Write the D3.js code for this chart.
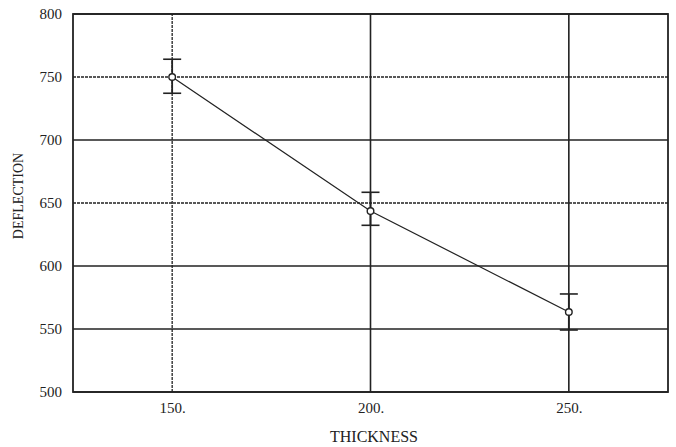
<!DOCTYPE html>
<html>
<head>
<meta charset="utf-8">
<script src="https://cdn.jsdelivr.net/npm/d3@7"></script>
<style>
  body { margin: 0; background: #fff; }
  text { font-family: "Liberation Serif", "DejaVu Serif", serif; fill: #222; }
</style>
</head>
<body>
<div id="chart"></div>
<script>
// thickness vs deflection, with error bar ends
const thickness = [150, 200, 250];
const deflection = [750, 643.6, 563.5];
const errUpper = [764.1, 658.5, 577.8];
const errLower = [737.1, 632.3, 549.2];
const xTicks = [150, 200, 250];
const yTicks = [500, 550, 600, 650, 700, 750, 800];
const dashedX = [150];
const dashedY = [650, 750];

const width = 676, height = 447;
const margin = {top: 14, right: 8, bottom: 55, left: 73};

const svg = d3.select("#chart")
  .append("svg")
  .attr("width", width)
  .attr("height", height);

const xScale = d3.scaleLinear()
  .domain([125, 275])
  .range([margin.left, width - margin.right]);

const yScale = d3.scaleLinear()
  .domain([500, 800])
  .range([height - margin.bottom, margin.top]);

const ink = "#222";

// grid lines
svg.selectAll(".hgrid")
  .data(yTicks)
  .join("line")
  .attr("class", "hgrid")
  .attr("x1", xScale(125))
  .attr("x2", xScale(275))
  .attr("y1", d => yScale(d))
  .attr("y2", d => yScale(d))
  .attr("stroke", ink)
  .attr("stroke-width", d => dashedY.includes(d) ? 1.3 : 1.6)
  .attr("stroke-dasharray", d => dashedY.includes(d) ? "3,1" : null);

svg.selectAll(".vgrid")
  .data(xTicks)
  .join("line")
  .attr("class", "vgrid")
  .attr("x1", d => xScale(d))
  .attr("x2", d => xScale(d))
  .attr("y1", yScale(500))
  .attr("y2", yScale(800))
  .attr("stroke", ink)
  .attr("stroke-width", d => dashedX.includes(d) ? 1.3 : 1.6)
  .attr("stroke-dasharray", d => dashedX.includes(d) ? "3,1" : null);

// frame
svg.append("rect")
  .attr("x", xScale(125))
  .attr("y", yScale(800))
  .attr("width", xScale(275) - xScale(125))
  .attr("height", yScale(500) - yScale(800))
  .attr("fill", "none")
  .attr("stroke", ink)
  .attr("stroke-width", 1.8);

// axes
const yAxis = d3.axisLeft(yScale).tickValues(yTicks).tickSize(0).tickPadding(11);
svg.append("g")
  .attr("transform", `translate(${margin.left},0)`)
  .call(yAxis)
  .call(g => g.select(".domain").remove())
  .call(g => g.selectAll("text").style("font-size", "15px").attr("fill", ink));

const xAxis = d3.axisBottom(xScale).tickValues(xTicks).tickSize(0).tickPadding(10)
  .tickFormat(d => d + ".");
svg.append("g")
  .attr("transform", `translate(0,${height - margin.bottom})`)
  .call(xAxis)
  .call(g => g.select(".domain").remove())
  .call(g => g.selectAll("text").style("font-size", "15px").attr("fill", ink));

svg.append("text")
  .attr("x", 374)
  .attr("y", 442)
  .attr("text-anchor", "middle")
  .style("font-size", "16px")
  .text("THICKNESS");

svg.append("text")
  .attr("transform", "translate(23,196) rotate(-90)")
  .attr("text-anchor", "middle")
  .style("font-size", "14px")
  .text("DEFLECTION");

// error bars
const pts = thickness.map((t, i) => ({t: t, v: deflection[i], hi: errUpper[i], lo: errLower[i]}));

svg.selectAll(".err-stem")
  .data(pts)
  .join("line")
  .attr("class", "err-stem")
  .attr("x1", d => xScale(d.t))
  .attr("x2", d => xScale(d.t))
  .attr("y1", d => yScale(d.hi))
  .attr("y2", d => yScale(d.lo))
  .attr("stroke", ink)
  .attr("stroke-width", 1.8);

svg.selectAll(".err-cap")
  .data(pts.flatMap(d => [{t: d.t, v: d.hi}, {t: d.t, v: d.lo}]))
  .join("line")
  .attr("class", "err-cap")
  .attr("x1", d => xScale(d.t) - 9)
  .attr("x2", d => xScale(d.t) + 9)
  .attr("y1", d => yScale(d.v))
  .attr("y2", d => yScale(d.v))
  .attr("stroke", ink)
  .attr("stroke-width", 1.6);

// data line
const line = d3.line()
  .x(d => xScale(d.t))
  .y(d => yScale(d.v));

svg.append("path")
  .datum(pts)
  .attr("d", line)
  .attr("fill", "none")
  .attr("stroke", ink)
  .attr("stroke-width", 1.2);

svg.selectAll(".dot")
  .data(pts)
  .join("circle")
  .attr("class", "dot")
  .attr("cx", d => xScale(d.t))
  .attr("cy", d => yScale(d.v))
  .attr("r", 3.3)
  .attr("fill", "#fff")
  .attr("stroke", ink)
  .attr("stroke-width", 1.4);
</script>
</body>
</html>
